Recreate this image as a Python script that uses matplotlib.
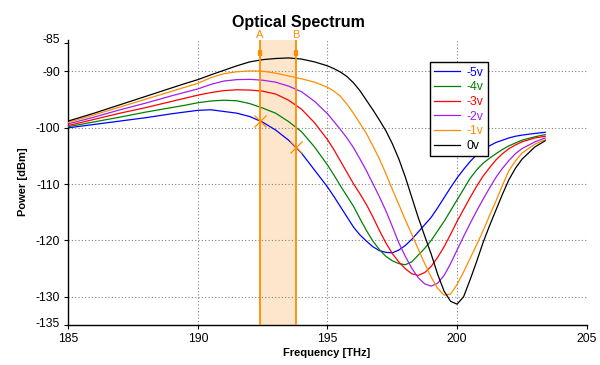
import numpy as np
import matplotlib
matplotlib.use("Agg")
import matplotlib.pyplot as plt
import matplotlib.transforms as mtransforms

# ---------------- data ----------------
freq = [185, 186, 187, 188, 189, 189.5, 190, 190.5, 191, 191.5, 192, 192.5, 193,
        193.5, 194, 194.5, 195, 195.25, 195.5, 195.75, 196, 196.25, 196.5, 196.75,
        197, 197.25, 197.5, 197.75, 198, 198.25, 198.5, 198.75, 199, 199.25, 199.5,
        199.75, 200, 200.25, 200.5, 200.75, 201, 201.25, 201.5, 201.75, 202, 202.25,
        202.5, 203, 203.4]

p_m5 = [-100.0, -99.4, -98.8, -98.2, -97.5, -97.2, -96.9, -96.8, -97.1, -97.4,
        -98.0, -99.0, -100.4, -102.2, -104.5, -107.5, -110.5, -112.2, -114.0, -115.8,
        -117.6, -119.0, -120.1, -121.1, -121.8, -122.1, -122.2, -121.7, -120.9, -119.8,
        -118.5, -117.2, -115.9, -114.2, -112.4, -110.6, -108.9, -107.4, -106.0, -104.8,
        -103.9, -103.2, -102.6, -102.2, -101.8, -101.5, -101.3, -101.0, -100.8]

p_m4 = [-99.8, -98.95, -98.1, -97.2, -96.4, -96.0, -95.55, -95.25, -95.1, -95.2,
        -95.7, -96.5, -97.4, -98.9, -100.7, -103.4, -106.6, -108.4, -110.3, -112.1,
        -113.9, -116.1, -118.2, -120.1, -121.6, -122.8, -123.6, -124.1, -124.3, -123.8,
        -122.6, -121.4, -120.0, -118.3, -116.6, -114.7, -112.8, -110.9, -109.0, -107.5,
        -106.3, -105.4, -104.6, -103.85, -103.2, -102.7, -102.2, -101.6, -101.2]

p_m3 = [-99.6, -98.5, -97.4, -96.4, -95.3, -94.75, -94.2, -93.75, -93.4, -93.25,
        -93.3, -93.5, -94.0, -95.1, -96.7, -99.1, -102.1, -103.9, -105.9, -107.9,
        -109.9, -111.7, -113.6, -115.8, -118.2, -120.4, -122.3, -123.8, -125.0, -125.9,
        -126.2, -125.7, -124.6, -123.0, -121.1, -118.9, -116.6, -114.5, -112.4, -110.4,
        -108.6, -107.1, -105.7, -104.6, -103.7, -103.05, -102.5, -101.8, -101.5]

p_m2 = [-99.3, -98.1, -96.8, -95.6, -94.3, -93.7, -93.1, -92.3, -91.7, -91.45,
        -91.4, -91.55, -91.9, -92.6, -93.6, -95.3, -97.5, -98.9, -100.3, -101.8,
        -103.5, -105.5, -107.6, -109.9, -112.2, -114.7, -117.5, -120.4, -122.8, -124.9,
        -126.6, -127.7, -128.1, -127.6, -126.2, -124.1, -121.7, -119.3, -117.0, -114.8,
        -112.7, -110.7, -108.8, -107.2, -105.8, -104.6, -103.7, -102.5, -101.8]

p_m1 = [-99.05, -97.7, -96.3, -94.9, -93.5, -92.8, -92.1, -91.1, -90.4, -90.05,
        -89.9, -89.95, -90.3, -90.8, -91.3, -91.9, -92.8, -93.5, -94.4, -95.8,
        -97.4, -99.2, -101.0, -103.2, -105.5, -108.1, -110.9, -113.6, -116.3, -118.9,
        -121.5, -124.1, -126.5, -128.5, -129.7, -129.5, -127.8, -125.6, -123.2, -120.8,
        -118.3, -115.6, -113.0, -110.2, -107.6, -105.9, -104.5, -102.9, -102.1]

p_0 = [-98.8, -97.4, -95.9, -94.4, -92.9, -92.15, -91.45, -90.6, -89.8, -89.0,
       -88.3, -87.9, -87.7, -87.6, -87.8, -88.3, -89.0, -89.5, -90.1, -90.9,
       -92.0, -93.4, -95.1, -96.8, -98.6, -100.5, -102.8, -105.5, -108.7, -112.3,
       -115.9, -119.2, -122.4, -126.0, -129.0, -130.8, -131.3, -130.0, -127.0, -123.8,
       -120.4, -117.4, -114.6, -111.8, -109.2, -107.2, -105.6, -103.4, -102.3]

series_labels = ["-5v", "-4v", "-3v", "-2v", "-1v", "0v"]
series_values = [p_m5, p_m4, p_m3, p_m2, p_m1, p_0]
series_colors = ["#0000FF", "#008000", "#FF0000", "#A020F0", "#FF8C00", "#000000"]

marker_a = 192.4
marker_b = 193.78
marker_labels = ["A", "B"]

x_ticks = [185, 190, 195, 200, 205]
y_ticks = [-85, -90, -100, -110, -120, -130, -135]

# ---------------- figure ----------------
FONT = ["Liberation Sans", "DejaVu Sans"]
plt.rcParams["font.family"] = FONT

fig = plt.figure(figsize=(6.0, 3.65), dpi=100)
ax = fig.add_axes([0.1138, 0.1096, 0.864, 0.7795])

orange = "#FF8C00"

# shaded band between cursors
ax.axvspan(marker_a, marker_b, color="#FDE6CC", zorder=0.5, lw=0)

for lab, vals, col in zip(series_labels, series_values, series_colors):
    ax.plot(freq, vals, color=col, lw=0.9, label=lab, zorder=3)

# cursors
trans = mtransforms.blended_transform_factory(ax.transData, ax.transAxes)
for xm, lab in zip([marker_a, marker_b], marker_labels):
    ax.axvline(xm, color=orange, lw=1.3, zorder=4)
    ax.plot([xm, xm], [0.945, 0.968], transform=trans, color=orange,
            lw=3.0, solid_capstyle="butt", zorder=5, clip_on=False)
    ax.text(xm, 1.02, lab, transform=trans, color=orange, fontsize=8,
            ha="center", va="center", clip_on=False)
    yv = np.interp(xm, freq, p_m5)
    ax.plot([xm], [yv], marker="x", ms=8, mew=0.9, color=orange, zorder=6)

ax.set_xlim(185, 205)
ax.set_ylim(-135, -84.5)
ax.set_xticks(x_ticks)
ax.set_yticks(y_ticks)
ax.set_xticklabels([str(t) for t in x_ticks])
ax.set_yticklabels([str(t) for t in y_ticks])

ax.tick_params(axis="both", labelsize=8.7, length=3, width=0.8, pad=3, colors="black")

# grid (dotted) only at interior positions
for xv in [190, 195, 200, 205]:
    ax.axvline(xv, color="#808080", lw=0.8, ls=(0, (1, 2)), zorder=1)
for yv in [-90, -100, -110, -120, -130]:
    ax.axhline(yv, color="#808080", lw=0.8, ls=(0, (1, 2)), zorder=1)

ax.spines["top"].set_visible(False)
ax.spines["right"].set_visible(False)
ax.spines["left"].set_linewidth(1.0)
ax.spines["bottom"].set_linewidth(1.0)

# nudge the edge tick labels as in the reference
lbls = ax.get_yticklabels()
off_up = mtransforms.ScaledTranslation(0, 5 / 100, fig.dpi_scale_trans)
off_up2 = mtransforms.ScaledTranslation(0, 2 / 100, fig.dpi_scale_trans)
lbls[0].set_transform(lbls[0].get_transform() + off_up)
lbls[-1].set_transform(lbls[-1].get_transform() + off_up2)

leg = ax.legend(loc="upper left", bbox_to_anchor=(0.698, 0.923), borderaxespad=0,
                fontsize=8.7, frameon=True, fancybox=False, framealpha=1,
                edgecolor="black", handlelength=2.1, handletextpad=0.6,
                labelspacing=0.22, borderpad=0.35)
leg.get_frame().set_linewidth(1.0)
for txt, col in zip(leg.get_texts(), series_colors):
    txt.set_color(col)

fig.text(0.497, 0.937, "Optical Spectrum", ha="center", va="center",
         fontsize=11.5, fontweight="bold")
fig.text(0.545, 0.033, "Frequency [THz]", ha="center", va="center",
         fontsize=8, fontweight="bold")
fig.text(0.038, 0.502, "Power [dBm]", ha="center", va="center",
         fontsize=8, fontweight="bold", rotation=90)

fig.savefig("out.png", dpi=100)
